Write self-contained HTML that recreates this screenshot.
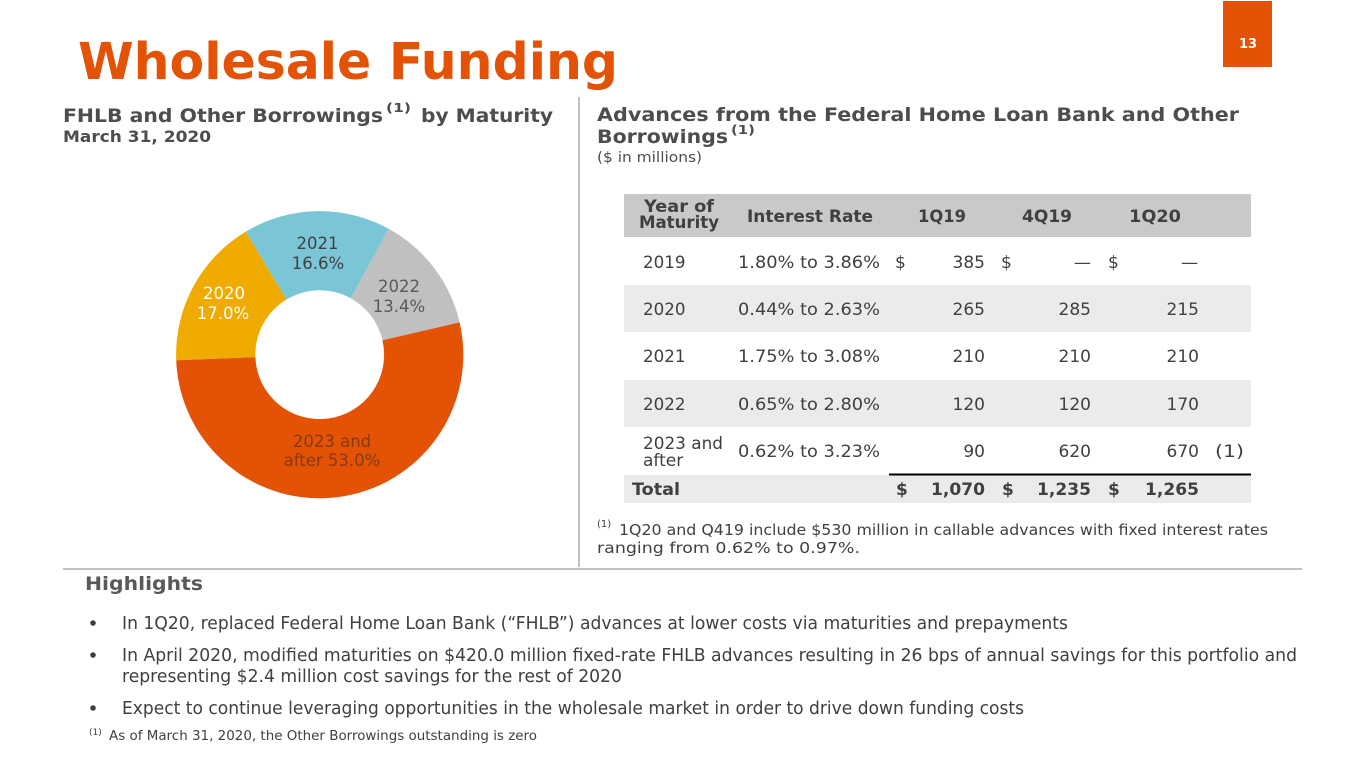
<!DOCTYPE html>
<html><head><meta charset="utf-8"><style>
html,body{margin:0;padding:0;background:#fff;}
svg{display:block;}
text{font-family:"DejaVu Sans","Liberation Sans",sans-serif;}
.b{font-weight:bold;}
</style></head><body>
<svg width="1365" height="768" viewBox="0 0 1365 768" xmlns="http://www.w3.org/2000/svg">
<rect width="1365" height="768" fill="#fff"/>
<!-- page number -->
<rect x="1223" y="1" width="49" height="66" fill="#E35205"/>
<text x="1248" y="48" font-size="13" class="b" fill="#fff" text-anchor="middle">13</text>
<!-- title -->
<text x="78" y="79" font-size="51" class="b" fill="#E35205" textLength="540" lengthAdjust="spacingAndGlyphs">Wholesale Funding</text>
<!-- left heading -->
<text x="63" y="122" font-size="19" class="b" fill="#4D4D4D" textLength="320" lengthAdjust="spacingAndGlyphs">FHLB and Other Borrowings</text>
<text x="386" y="112" font-size="12" class="b" fill="#4D4D4D" textLength="25" lengthAdjust="spacingAndGlyphs">(1)</text>
<text x="421" y="122" font-size="19" class="b" fill="#4D4D4D" textLength="132" lengthAdjust="spacingAndGlyphs">by Maturity</text>
<text x="63" y="142" font-size="16" class="b" fill="#4D4D4D" textLength="148" lengthAdjust="spacingAndGlyphs">March 31, 2020</text>
<!-- dividers -->
<line x1="579" y1="97" x2="579" y2="567" stroke="#BFBFBF" stroke-width="2"/>
<line x1="63" y1="569" x2="1302" y2="569" stroke="#BFBFBF" stroke-width="2"/>
<!-- right heading -->
<text x="597" y="121" font-size="19" class="b" fill="#4D4D4D" textLength="642" lengthAdjust="spacingAndGlyphs">Advances from the Federal Home Loan Bank and Other</text>
<text x="597" y="143" font-size="19" class="b" fill="#4D4D4D" textLength="131" lengthAdjust="spacingAndGlyphs">Borrowings</text>
<text x="731" y="134" font-size="12" class="b" fill="#4D4D4D" textLength="24" lengthAdjust="spacingAndGlyphs">(1)</text>
<text x="597" y="162" font-size="14" fill="#4D4D4D" textLength="105" lengthAdjust="spacingAndGlyphs">($ in millions)</text>

<!-- donut -->
<path d="M 388.66 228.75 A 143.6 143.6 0 0 1 459.62 322.39 L 382.45 340.21 A 64.4 64.4 0 0 0 350.63 298.21 Z" fill="#C0C0C0"/>
<path d="M 459.62 322.39 A 143.6 143.6 0 1 1 176.21 360.21 L 255.35 357.17 A 64.4 64.4 0 1 0 382.45 340.21 Z" fill="#E35205"/>
<path d="M 176.21 360.21 A 143.6 143.6 0 0 1 245.74 231.61 L 286.53 299.50 A 64.4 64.4 0 0 0 255.35 357.17 Z" fill="#F0AB00"/>
<path d="M 245.74 231.61 A 143.6 143.6 0 0 1 388.66 228.75 L 350.63 298.21 A 64.4 64.4 0 0 0 286.53 299.50 Z" fill="#7AC6D7"/>
<g font-size="16.5" text-anchor="middle">
<text x="317.5" y="249" fill="#404040">2021</text>
<text x="318" y="269" fill="#404040">16.6%</text>
<text x="399" y="292" fill="#595959">2022</text>
<text x="399" y="312" fill="#595959">13.4%</text>
<text x="224" y="299" fill="#fff">2020</text>
<text x="223" y="319" fill="#fff">17.0%</text>
<text x="332" y="447" fill="#873A10">2023 and</text>
<text x="332" y="466" fill="#873A10">after 53.0%</text>
</g>

<!-- table -->
<rect x="624" y="194" width="627" height="43" fill="#C9C9C9"/>
<rect x="624" y="285" width="627" height="47" fill="#EBEBEB"/>
<rect x="624" y="380" width="627" height="47" fill="#EBEBEB"/>
<rect x="624" y="475" width="627" height="28" fill="#EBEBEB"/>
<line x1="889" y1="474.5" x2="1251" y2="474.5" stroke="#000" stroke-width="2"/>
<g class="b" fill="#404040" font-size="16.5" text-anchor="middle">
<text x="679" y="212" font-weight="bold" textLength="70" lengthAdjust="spacingAndGlyphs">Year of</text>
<text x="679" y="228" font-weight="bold" textLength="80" lengthAdjust="spacingAndGlyphs">Maturity</text>
<text x="810" y="222" font-weight="bold" textLength="126" lengthAdjust="spacingAndGlyphs">Interest Rate</text>
<text x="942" y="222" font-weight="bold" textLength="48" lengthAdjust="spacingAndGlyphs">1Q19</text>
<text x="1047" y="222" font-weight="bold" textLength="50" lengthAdjust="spacingAndGlyphs">4Q19</text>
<text x="1155" y="222" font-weight="bold" textLength="52" lengthAdjust="spacingAndGlyphs">1Q20</text>
</g>
<g fill="#404040" font-size="17">
<text x="643" y="268" textLength="42.5" lengthAdjust="spacingAndGlyphs">2019</text>
<text x="738" y="268" textLength="142" lengthAdjust="spacingAndGlyphs">1.80% to 3.86%</text>
<text x="895" y="268">$</text>
<text x="985" y="268" text-anchor="end">385</text>
<text x="1001" y="268">$</text>
<text x="1091" y="268" text-anchor="end">—</text>
<text x="1108" y="268">$</text>
<text x="1198" y="268" text-anchor="end">—</text>

<text x="643" y="315" textLength="42.5" lengthAdjust="spacingAndGlyphs">2020</text>
<text x="738" y="315" textLength="142" lengthAdjust="spacingAndGlyphs">0.44% to 2.63%</text>
<text x="985" y="315" text-anchor="end">265</text>
<text x="1091" y="315" text-anchor="end">285</text>
<text x="1199" y="315" text-anchor="end">215</text>

<text x="643" y="362" textLength="42.5" lengthAdjust="spacingAndGlyphs">2021</text>
<text x="738" y="362" textLength="142" lengthAdjust="spacingAndGlyphs">1.75% to 3.08%</text>
<text x="985" y="362" text-anchor="end">210</text>
<text x="1091" y="362" text-anchor="end">210</text>
<text x="1199" y="362" text-anchor="end">210</text>

<text x="643" y="410" textLength="42.5" lengthAdjust="spacingAndGlyphs">2022</text>
<text x="738" y="410" textLength="142" lengthAdjust="spacingAndGlyphs">0.65% to 2.80%</text>
<text x="985" y="410" text-anchor="end">120</text>
<text x="1091" y="410" text-anchor="end">120</text>
<text x="1199" y="410" text-anchor="end">170</text>

<text x="643" y="449" textLength="80" lengthAdjust="spacingAndGlyphs">2023 and</text>
<text x="643" y="466">after</text>
<text x="738" y="457" textLength="142" lengthAdjust="spacingAndGlyphs">0.62% to 3.23%</text>
<text x="985" y="457" text-anchor="end">90</text>
<text x="1091" y="457" text-anchor="end">620</text>
<text x="1199" y="457" text-anchor="end">670</text>
<text x="1215" y="457" textLength="29" lengthAdjust="spacingAndGlyphs">(1)</text>
</g>
<g fill="#404040" font-size="17" font-weight="bold">
<text x="632" y="495" textLength="48" lengthAdjust="spacingAndGlyphs">Total</text>
<text x="896" y="495">$</text>
<text x="985" y="495" text-anchor="end" textLength="54" lengthAdjust="spacingAndGlyphs">1,070</text>
<text x="1002" y="495">$</text>
<text x="1091" y="495" text-anchor="end" textLength="54" lengthAdjust="spacingAndGlyphs">1,235</text>
<text x="1108" y="495">$</text>
<text x="1199" y="495" text-anchor="end" textLength="54" lengthAdjust="spacingAndGlyphs">1,265</text>
</g>
<!-- right footnote -->
<text x="597" y="527" font-size="10" fill="#404040">(1)</text>
<text x="619" y="535" font-size="15" fill="#404040" textLength="649" lengthAdjust="spacingAndGlyphs">1Q20 and Q419 include $530 million in callable advances with fixed interest rates</text>
<text x="597" y="553" font-size="15" fill="#404040" textLength="263" lengthAdjust="spacingAndGlyphs">ranging from 0.62% to 0.97%.</text>

<!-- highlights -->
<text x="85" y="590" font-size="19" class="b" fill="#595959" textLength="118" lengthAdjust="spacingAndGlyphs">Highlights</text>
<g fill="#404040">
<circle cx="93" cy="623" r="2.8"/>
<circle cx="93" cy="655" r="2.8"/>
<circle cx="93" cy="708" r="2.8"/>
</g>
<g fill="#404040" font-size="18">
<text x="122" y="629" textLength="946" lengthAdjust="spacingAndGlyphs">In 1Q20, replaced Federal Home Loan Bank (“FHLB”) advances at lower costs via maturities and prepayments</text>
<text x="122" y="661" textLength="1175" lengthAdjust="spacingAndGlyphs">In April 2020, modified maturities on $420.0 million fixed-rate FHLB advances resulting in 26 bps of annual savings for this portfolio and</text>
<text x="122" y="682" textLength="500" lengthAdjust="spacingAndGlyphs">representing $2.4 million cost savings for the rest of 2020</text>
<text x="122" y="714" textLength="902" lengthAdjust="spacingAndGlyphs">Expect to continue leveraging opportunities in the wholesale market in order to drive down funding costs</text>
</g>
<text x="89" y="735" font-size="9" fill="#404040">(1)</text>
<text x="109" y="740" font-size="13" fill="#404040" textLength="428" lengthAdjust="spacingAndGlyphs">As of March 31, 2020, the Other Borrowings outstanding is zero</text>
</svg>
</body></html>
